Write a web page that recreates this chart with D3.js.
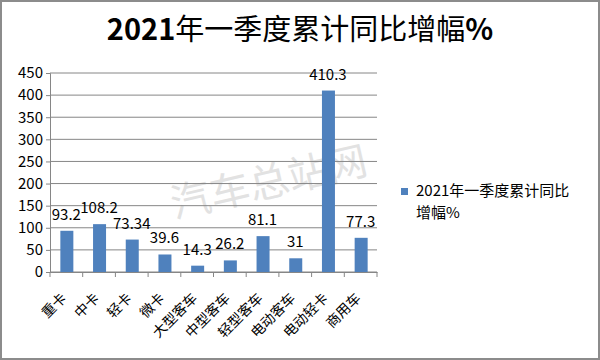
<!DOCTYPE html>
<html><head><meta charset="utf-8">
<script src="https://cdn.jsdelivr.net/npm/d3@7"></script>
<style>body{margin:0;background:#fff}svg{display:block}</style>
</head><body>
<script>
const categories = ["重卡","中卡","轻卡","微卡","大型客车","中型客车","轻型客车","电动客车","电动轻卡","商用车"];
const values = [93.2,108.2,73.34,39.6,14.3,26.2,81.1,31,410.3,77.3];
const labels = ["93.2","108.2","73.34","39.6","14.3","26.2","81.1","31","410.3","77.3"];
const yTicks = [0,50,100,150,200,250,300,350,400,450];
const titleParts = [["2021","bold"],["年一季度累计同比增幅","normal"],["%","bold"]];
const legendLines = ["2021年一季度累计同比","增幅%"];

const W=600,H=360;
const svg=d3.select("body").append("svg").attr("width",W).attr("height",H);
const cjk="'Noto Sans CJK SC', sans-serif";
svg.append("rect").attr("x",1).attr("y",1).attr("width",W-2).attr("height",H-2).attr("fill","#fff").attr("stroke","#8c8c8c").attr("stroke-width",2);

const t=svg.append("text").attr("x",300).attr("y",40).attr("text-anchor","middle")
 .attr("font-family",cjk).attr("font-size",29).attr("fill","#000");
t.selectAll("tspan").data(titleParts).join("tspan").attr("font-weight",d=>d[1]).text(d=>d[0]);

const x=d3.scaleBand().domain(categories).range([50,377]);
const y=d3.scaleLinear().domain([0,450]).range([272,73]);

svg.append("text").attr("transform","translate(272,196) rotate(-13)").attr("text-anchor","middle")
 .attr("font-family",cjk).attr("font-size",40).attr("fill","#e2e2e2").text("汽车总站网");

svg.selectAll(".grid").data(yTicks).join("line").attr("x1",50).attr("x2",377)
 .attr("y1",d=>y(d)).attr("y2",d=>y(d)).attr("stroke","#868686").attr("stroke-width",1);

const yAxis=svg.append("g").attr("transform","translate(50,0)").call(d3.axisLeft(y).tickValues(yTicks).tickSize(4).tickPadding(3));
yAxis.select(".domain").attr("stroke","#868686");
yAxis.selectAll("line").attr("stroke","#868686");
yAxis.selectAll("text").attr("font-family",cjk).attr("font-size",15).attr("fill","#000");

const bw=13;
svg.selectAll(".bar").data(values).join("rect")
 .attr("x",(d,i)=>x(categories[i])+x.bandwidth()/2-bw/2+0.5).attr("width",bw)
 .attr("y",d=>y(d)).attr("height",d=>y(0)-y(d)).attr("fill","#4f81bd");

svg.selectAll(".lbl").data(values).join("text")
 .attr("x",(d,i)=>x(categories[i])+x.bandwidth()/2).attr("y",d=>y(d)-11)
 .attr("text-anchor","middle").attr("font-family",cjk).attr("font-size",15).attr("fill","#000")
 .text((d,i)=>labels[i]);

const xAxis=svg.append("g").attr("transform","translate(0,272)").call(d3.axisBottom(x).tickSize(0).tickFormat(""));
xAxis.select(".domain").attr("stroke","#868686");
const edges=categories.map(c=>x(c)).concat([377]);
xAxis.selectAll(".tk").data(edges).join("line").attr("x1",d=>d).attr("x2",d=>d).attr("y1",0).attr("y2",5).attr("stroke","#868686");

svg.selectAll(".cat").data(categories).join("text")
 .attr("transform",d=>`translate(${x(d)+x.bandwidth()/2+1},${299}) rotate(-45)`)
 .attr("text-anchor","end").attr("font-family",cjk).attr("font-size",14).attr("fill","#000").text(d=>d);

svg.append("rect").attr("x",401).attr("y",188).attr("width",7).attr("height",7).attr("fill","#4f81bd");
svg.selectAll(".lg").data(legendLines).join("text").attr("x",416).attr("y",(d,i)=>196+i*22)
 .attr("font-family",cjk).attr("font-size",15).attr("fill","#000").text(d=>d);
</script>
</body></html>
